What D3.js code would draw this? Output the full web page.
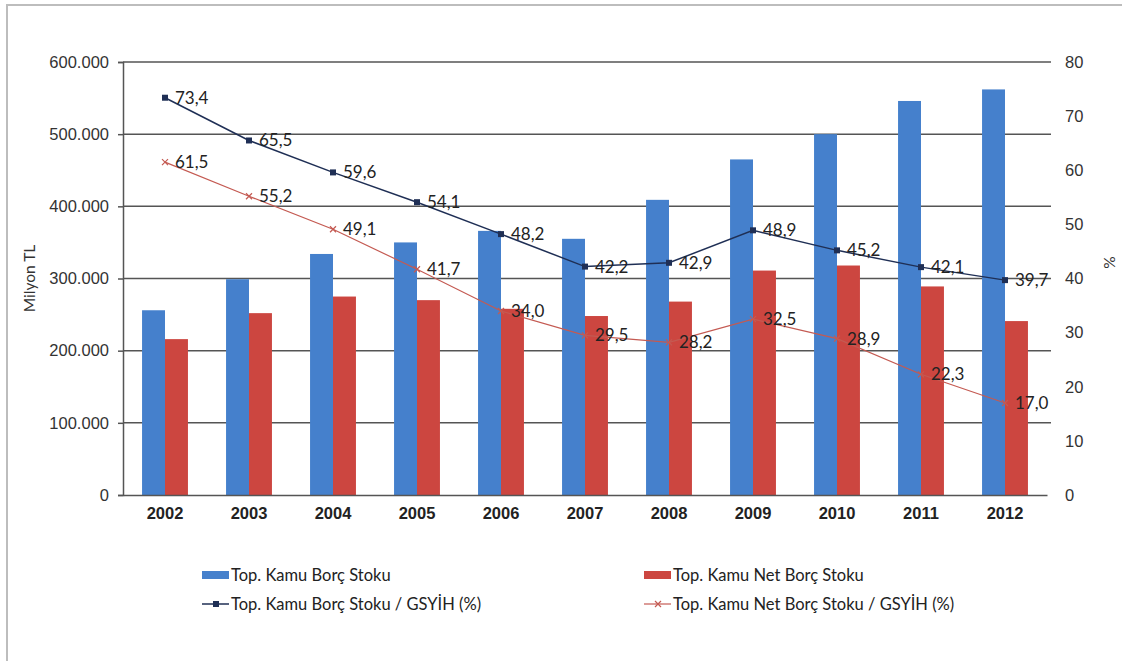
<!DOCTYPE html>
<meta charset="utf-8">
<head>
	<title>Kamu Borç Stoku</title>
	<script src="https://cdnjs.cloudflare.com/ajax/libs/d3/7.8.5/d3.min.js" charset="utf-8"></script>
</head>

<style type="text/css">
	body {
		margin: 0;
		background: #fff;
		font-family: Lato, "Open Sans", sans-serif;
	}
	.tick text {
		font-size: 16.5px;
		fill: #333;
	}
	.x.axis .tick text {
		font-weight: bold;
		fill: #222;
	}
	.lbl {
		font-size: 17px;
		fill: #222;
	}
	.legend text {
		font-size: 16.5px;
		fill: #222;
	}
</style>

<body>
<div id="chart"></div>

<script>
	// --- data ---
	var years = ["2002", "2003", "2004", "2005", "2006", "2007", "2008", "2009", "2010", "2011", "2012"];
	// Milyon TL
	var grossDebt = [256000, 299000, 334000, 350000, 366000, 355000, 409000, 465000, 500000, 546000, 562000];
	var netDebt = [216000, 252000, 275000, 270000, 258000, 248000, 268000, 311000, 318000, 289000, 241000];
	// % of GSYİH
	var grossPct = [73.4, 65.5, 59.6, 54.1, 48.2, 42.2, 42.9, 48.9, 45.2, 42.1, 39.7];
	var netPct = [61.5, 55.2, 49.1, 41.7, 34.0, 29.5, 28.2, 32.5, 28.9, 22.3, 17.0];

	var leftTicks = [0, 100000, 200000, 300000, 400000, 500000, 600000];
	var rightTicks = [0, 10, 20, 30, 40, 50, 60, 70, 80];

	var seriesNames = ["Top. Kamu Borç Stoku", "Top. Kamu Net Borç Stoku",
		"Top. Kamu Borç Stoku / GSYİH (%)", "Top. Kamu Net Borç Stoku / GSYİH (%)"];

	var blue = "#4580cc",
		red = "#cc4640",
		navy = "#1f2f55",
		lineRed = "#c45a52";

	var W = 1122, H = 661;
	var margin = {top: 62, right: 75, bottom: 166, left: 123};
	var width = W - margin.left - margin.right,
		height = H - margin.top - margin.bottom;

	// turkish number format: 600.000 and 73,4
	var tr = d3.formatLocale({decimal: ",", thousands: ".", grouping: [3], currency: ["", " TL"]});

	var svg = d3.select("#chart").append("svg")
		.attr("width", W)
		.attr("height", H);

	// outer frame (left + top edges only)
	svg.append("path")
		.attr("d", "M7," + H + "V5H" + W)
		.attr("fill", "none")
		.attr("stroke", "#bdbdbd")
		.attr("stroke-width", 2);

	var g = svg.append("g")
		.attr("transform", "translate(" + margin.left + "," + margin.top + ")");

	var xScale = d3.scaleBand()
		.domain(years)
		.range([0, width]);

	var xSub = d3.scaleBand()
		.domain(["gross", "net"])
		.range([0, xScale.bandwidth()])
		.paddingOuter(0.83);

	var yLeft = d3.scaleLinear()
		.domain([0, 600000])
		.range([height, 0]);

	var yRight = d3.scaleLinear()
		.domain([0, 80])
		.range([height, 0]);

	// gridlines
	g.append("g")
		.attr("class", "grid")
		.selectAll("line")
		.data(leftTicks.slice(1))
	 .enter().append("line")
		.attr("x1", 0)
		.attr("x2", width + 4)
		.attr("y1", function(d) { return yLeft(d); })
		.attr("y2", function(d) { return yLeft(d); })
		.attr("stroke", "#555")
		.attr("stroke-width", 1.5);

	// bars
	var barData = years.map(function(y, i) {
		return [{year: y, key: "gross", v: grossDebt[i]}, {year: y, key: "net", v: netDebt[i]}];
	});

	g.selectAll(".yr")
		.data(barData)
	 .enter().append("g")
		.attr("class", "yr")
		.attr("transform", function(d) { return "translate(" + xScale(d[0].year) + ",0)"; })
	 .selectAll("rect")
		.data(function(d) { return d; })
	 .enter().append("rect")
		.attr("x", function(d) { return xSub(d.key); })
		.attr("width", xSub.bandwidth())
		.attr("y", function(d) { return yLeft(d.v); })
		.attr("height", function(d) { return height - yLeft(d.v); })
		.attr("fill", function(d) { return d.key == "gross" ? blue : red; });

	// axes
	var yAxisL = g.append("g")
		.attr("class", "y axis")
		.call(d3.axisLeft(yLeft).tickValues(leftTicks).tickFormat(tr.format(",")).tickSize(5).tickPadding(9));
	yAxisL.select(".domain").attr("stroke", "#555").attr("stroke-width", 1.5);
	yAxisL.selectAll(".tick line").attr("stroke", "#555").attr("stroke-width", 1.5);

	var yAxisR = g.append("g")
		.attr("class", "y2 axis")
		.attr("transform", "translate(" + width + ",0)")
		.call(d3.axisRight(yRight).tickValues(rightTicks).tickSize(0).tickPadding(18));
	yAxisR.select(".domain").remove();

	var xAxis = g.append("g")
		.attr("class", "x axis")
		.attr("transform", "translate(0," + height + ")")
		.call(d3.axisBottom(xScale).tickSize(0).tickPadding(12));
	xAxis.select(".domain").attr("stroke", "#555").attr("stroke-width", 1.5);

	// axis titles
	g.append("text")
		.attr("transform", "translate(" + (30 - margin.left) + "," + (height / 2) + ") rotate(-90)")
		.attr("text-anchor", "middle")
		.attr("dy", "0.35em")
		.style("font-size", "15.5px")
		.style("fill", "#333")
		.text("Milyon TL");

	g.append("text")
		.attr("transform", "translate(" + (width + 63) + "," + (height / 2 - 16) + ") rotate(-90)")
		.attr("text-anchor", "middle")
		.attr("dy", "0.35em")
		.style("font-size", "15.5px")
		.style("fill", "#333")
		.text("%");

	// lines
	var cx = function(i) { return xScale(years[i]) + xScale.bandwidth() / 2; };

	var line = d3.line()
		.x(function(d, i) { return cx(i); })
		.y(function(d) { return yRight(d); });

	g.append("path")
		.datum(netPct)
		.attr("d", line)
		.attr("fill", "none")
		.attr("stroke", lineRed)
		.attr("stroke-width", 1.2);

	g.append("path")
		.datum(grossPct)
		.attr("d", line)
		.attr("fill", "none")
		.attr("stroke", navy)
		.attr("stroke-width", 1.5);

	// x markers for net %
	g.selectAll(".xm")
		.data(netPct)
	 .enter().append("path")
		.attr("class", "xm")
		.attr("transform", function(d, i) { return "translate(" + cx(i) + "," + yRight(d) + ")"; })
		.attr("d", "M-3,-3L3,3M-3,3L3,-3")
		.attr("stroke", lineRed)
		.attr("stroke-width", 1.2);

	// square markers for gross %
	g.selectAll(".sq")
		.data(grossPct)
	 .enter().append("rect")
		.attr("class", "sq")
		.attr("x", function(d, i) { return cx(i) - 3; })
		.attr("y", function(d) { return yRight(d) - 3; })
		.attr("width", 6)
		.attr("height", 6)
		.attr("fill", navy);

	// data labels
	var fmt1 = tr.format(".1f");
	[grossPct, netPct].forEach(function(arr) {
		g.selectAll(null)
			.data(arr)
		 .enter().append("text")
			.attr("class", "lbl")
			.attr("x", function(d, i) { return cx(i) + 10; })
			.attr("y", function(d) { return yRight(d); })
			.attr("dy", "0.35em")
			.text(function(d) { return fmt1(d); });
	});

	// legend
	var legend = svg.append("g").attr("class", "legend");
	var legPos = [[202, 575], [644, 575], [202, 604], [644, 604]];

	legPos.forEach(function(p, i) {
		var lg = legend.append("g").attr("transform", "translate(" + p[0] + "," + p[1] + ")");
		if (i < 2) {
			lg.append("rect")
				.attr("x", 0).attr("y", -4)
				.attr("width", 27).attr("height", 8)
				.attr("fill", i == 0 ? blue : red);
		} else if (i == 2) {
			lg.append("line").attr("x1", 0).attr("x2", 27)
				.attr("stroke", navy).attr("stroke-width", 1.5);
			lg.append("rect").attr("x", 11).attr("y", -3).attr("width", 6).attr("height", 6).attr("fill", navy);
		} else {
			lg.append("line").attr("x1", 0).attr("x2", 27)
				.attr("stroke", lineRed).attr("stroke-width", 1.2);
			lg.append("path").attr("d", "M11,-3L17,3M11,3L17,-3").attr("stroke", lineRed).attr("stroke-width", 1.2);
		}
		lg.append("text")
			.attr("x", 29)
			.attr("dy", "0.35em")
			.text(seriesNames[i]);
	});
</script>
</body>
